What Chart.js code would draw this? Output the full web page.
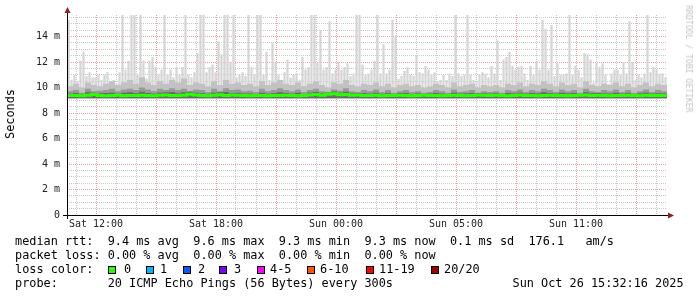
<!DOCTYPE html>
<html><head><meta charset="utf-8">
<script src="https://cdn.jsdelivr.net/npm/chart.js@4/dist/chart.umd.min.js"></script>
<style>
html,body{margin:0;padding:0;background:#fff;}
#wrap{position:relative;width:697px;height:297px;overflow:hidden;background:#fff;}
canvas{position:absolute;left:0;top:0;}
.t{position:absolute;font-family:'DejaVu Sans Mono',monospace;font-size:11.85px;color:#000;white-space:pre;line-height:14px;}
.box{position:absolute;width:8px;height:8px;box-sizing:border-box;border:1px solid #000;top:266px;}
.rot{position:absolute;white-space:pre;font-family:'DejaVu Sans Mono',monospace;}
</style></head>
<body>
<div id="wrap">
<canvas id="c" width="697" height="297"></canvas>
<div class="rot" style="left:10px;top:114px;font-size:11.85px;color:#000;transform:translate(-50%,-50%) rotate(-90deg);">Seconds</div>
<div class="rot" style="left:688.5px;top:59px;font-size:8.1px;color:#c4c4c4;transform:translate(-50%,-50%) rotate(90deg);">RRDTOOL / TOBI OETIKER</div>
<div class="t" style="left:15px;top:234px;">median rtt:  9.4 ms avg  9.6 ms max  9.3 ms min  9.3 ms now  0.1 ms sd  176.1   am/s</div>
<div class="t" style="left:15px;top:248px;">packet loss: 0.00 % avg  0.00 % max  0.00 % min  0.00 % now</div>
<div class="t" id="lossline" style="left:15px;top:262px;">loss color:</div>
<div class="t" style="left:15px;top:276px;">probe:       20 ICMP Echo Pings (56 Bytes) every 300s</div>
<div class="t" style="left:512.5px;top:276px;">Sun Oct 26 15:32:16 2025</div>
</div>
<script>
// ---- data ----
const lossLabels = ['0','1','2','3','4-5','6-10','11-19','20/20'];
const lossColors = ['#26ff00','#00b8ff','#0059ff','#7e00ff','#ff00ff','#ff5500','#ff0000','#a10000'];
const lossBoxX   = [108,146,183,219,257,307,366,431];
const lossTextX  = [124,160,198,234,270,320,379,444];

const xTickLabelHours = [0,6,12,18,24];
const xTickLabels = ['Sat 12:00','Sat 18:00','Sun 00:00','Sun 05:00','Sun 11:00'];
const yTickLabelVals = [0,2,4,6,8,10,12,14];
const yTickLabels = ['0','2 m','4 m','6 m','8 m','10 m','12 m','14 m'];

const startHour = -1.45, endHour = 28.55; // hours relative to Sat 12:00
const smokeFloor = 9.15;

// max ping per 9-minute column (ms)
const maxPing = [
15.3,10.6,11.0,10.5,12.1,12.8,10.9,11.2,10.8,10.8, 11.0,10.6,11.0,11.2,10.4,10.6,10.3,11.2,15.7,11.4,
12.1,15.7,15.7,11.0,15.7,12.1,10.7,12.1,12.4,11.6, 11.0,11.4,15.7,11.0,11.4,10.8,11.6,11.0,11.6,15.7,
11.0,10.8,11.2,12.7,15.7,15.7,11.2,11.6,11.8,11.2, 13.6,12.6,15.7,15.7,12.0,15.7,10.8,11.0,11.2,10.9,
15.7,11.6,11.0,15.7,15.7,11.0,12.8,10.6,13.5,12.0, 11.0,10.6,11.2,12.2,10.8,11.0,11.1,10.6,12.4,11.4,
11.6,15.7,15.7,11.9,14.5,11.4,11.6,15.2,11.1,11.4, 12.0,11.4,11.6,11.9,10.9,11.1,15.7,15.7,11.8,11.0,
11.1,11.4,12.1,15.7,11.1,13.4,11.1,11.4,15.3,14.1, 10.7,10.9,11.3,11.6,11.0,10.9,12.5,11.2,11.1,11.7,
11.4,11.0,11.2,10.5,10.6,11.0,10.6,11.1,10.9,15.7, 11.1,10.9,11.0,15.7,11.0,10.6,10.4,11.0,11.2,11.1,
10.8,11.7,11.1,13.7,10.6,12.2,12.4,12.8,11.7,11.4, 11.6,11.7,11.1,10.6,11.7,11.0,12.1,11.4,15.3,14.6,
11.4,14.9,10.9,11.9,11.0,11.0,11.1,15.7,11.0,11.7, 11.4,10.8,12.7,12.6,12.2,10.4,11.9,11.6,11.9,11.0,
10.3,11.1,11.4,11.4,11.0,12.0,11.1,15.2,12.0,10.6, 11.0,10.8,11.1,15.7,11.2,11.6,11.4,11.1,11.1,10.8
];
// upper quantile per 18-minute column (ms)
const upperPing = [
10.1,10.3,10.0,10.4,10.2,10.1,10.3,10.5,10.2,10.4, 10.6,10.3,10.8,10.4,10.2,10.5,10.3,10.6,10.4,10.7,
10.2,10.4,10.3,10.1,10.5,10.2,10.6,10.3,10.4,10.2, 10.3,10.1,10.5,10.2,10.4,10.6,10.3,10.2,10.4,10.1,
10.3,10.5,10.2,10.0,10.4,10.3,10.6,10.2,10.1,10.3, 10.2,10.4,10.1,10.3,10.0,10.2,10.3,10.1,10.2,10.0,
10.1,10.3,10.2,10.0,10.4,10.1,10.2,10.3,10.0,10.2, 10.1,10.2,10.0,10.3,10.2,10.4,10.1,10.3,10.2,10.5,
10.3,10.1,10.4,10.2,10.3,10.0,10.5,10.2,10.1,10.3, 10.2,10.4,10.1,10.3,10.0,10.2,10.4,10.1,10.3,10.2
];
// inner quantile per 18-minute column (ms)
const innerPing = [
9.70,9.80,9.60,9.90,9.70,9.75,9.80,9.90,9.70,9.85, 9.90,9.80,10.0,9.85,9.70,9.90,9.80,9.95,9.80,9.90,
9.70,9.85,9.80,9.65,9.90,9.70,9.95,9.80,9.85,9.70, 9.75,9.65,9.90,9.70,9.80,9.95,9.80,9.70,9.85,9.65,
9.80,9.90,9.70,9.60,9.85,9.75,9.95,9.70,9.65,9.80, 9.70,9.85,9.65,9.80,9.60,9.70,9.80,9.65,9.70,9.60,
9.65,9.80,9.70,9.60,9.85,9.65,9.70,9.80,9.60,9.70, 9.65,9.70,9.60,9.80,9.70,9.85,9.65,9.80,9.70,9.90,
9.80,9.65,9.85,9.70,9.80,9.60,9.90,9.70,9.65,9.80, 9.70,9.85,9.65,9.80,9.60,9.70,9.85,9.65,9.80,9.70
];
// core quantile per 18-minute column (ms)
const corePing = [
9.52,9.58,9.50,9.62,9.60,9.55,9.58,9.60,9.52,9.60, 9.62,9.56,9.66,9.58,9.52,9.60,9.62,9.64,9.56,9.62,
9.66,9.60,9.56,9.50,9.60,9.62,9.64,9.58,9.60,9.54, 9.54,9.50,9.60,9.52,9.56,9.62,9.58,9.52,9.60,9.50,
9.60,9.64,9.58,9.62,9.68,9.60,9.66,9.56,9.58,9.56, 9.52,9.60,9.50,9.56,9.50,9.56,9.58,9.50,9.54,9.50,
9.52,9.58,9.52,9.50,9.60,9.52,9.54,9.58,9.58,9.56, 9.52,9.56,9.50,9.58,9.54,9.60,9.52,9.58,9.54,9.62,
9.58,9.52,9.60,9.54,9.58,9.50,9.62,9.56,9.58,9.54, 9.52,9.60,9.52,9.58,9.50,9.54,9.60,9.52,9.56,9.54
];
// median rtt per 18-minute column (ms)
const medianRtt = [
9.37,9.38,9.36,9.40,9.45,9.38,9.36,9.37,9.39,9.36, 9.38,9.37,9.40,9.38,9.36,9.39,9.42,9.38,9.37,9.40,
9.48,9.42,9.38,9.36,9.40,9.43,9.38,9.41,9.39,9.37, 9.36,9.38,9.37,9.35,9.37,9.38,9.40,9.37,9.36,9.38,
9.42,9.45,9.40,9.47,9.52,9.44,9.46,9.40,9.42,9.38, 9.37,9.39,9.36,9.38,9.37,9.40,9.38,9.36,9.37,9.39,
9.38,9.37,9.36,9.38,9.40,9.37,9.36,9.38,9.42,9.39, 9.37,9.40,9.38,9.36,9.37,9.41,9.38,9.37,9.36,9.38,
9.39,9.37,9.38,9.36,9.37,9.39,9.42,9.38,9.40,9.37, 9.36,9.38,9.37,9.40,9.38,9.36,9.39,9.37,9.38,9.37
];

// ---- legend boxes ----
const wrap = document.getElementById('wrap');
lossLabels.forEach((lab, i) => {
  const b = document.createElement('div');
  b.className = 'box'; b.style.left = lossBoxX[i] + 'px'; b.style.background = lossColors[i];
  wrap.appendChild(b);
  const t = document.createElement('div');
  t.className = 't'; t.style.left = lossTextX[i] + 'px'; t.style.top = '262px'; t.textContent = lab;
  wrap.appendChild(t);
});

// ---- build series points along the time axis ----
function toPoints(arr) {
  const step = (endHour - startHour) / arr.length;
  const pts = arr.map((v, i) => ({x: startHour + i * step, y: v}));
  pts.push({x: endHour, y: arr[arr.length - 1]});
  return pts;
}
function toBars(arr) {
  const step = (endHour - startHour) / arr.length;
  return arr.map((v, i) => ({x: startHour + (i + 0.5) * step, y: [smokeFloor, v]}));
}

const redGrid = 'rgba(225,120,120,0.7)';
const grayGrid = 'rgba(175,175,175,0.7)';

const axisPlugin = {
  id: 'rrdAxes',
  afterDraw(chart) {
    const {ctx, chartArea: a} = chart;
    ctx.save();
    ctx.strokeStyle = '#000'; ctx.lineWidth = 1;
    ctx.beginPath();
    ctx.moveTo(a.left + 0.5, a.bottom + 4); ctx.lineTo(a.left + 0.5, a.top - 3);
    ctx.moveTo(a.left - 4, a.bottom + 0.5); ctx.lineTo(a.right + 2, a.bottom + 0.5);
    ctx.stroke();
    ctx.fillStyle = '#9b1c1c';
    ctx.beginPath();
    ctx.moveTo(a.left + 0.5, a.top - 8); ctx.lineTo(a.left - 2.5, a.top - 2); ctx.lineTo(a.left + 3.5, a.top - 2); ctx.closePath();
    ctx.fill();
    ctx.beginPath();
    ctx.moveTo(a.right + 7, a.bottom + 0.5); ctx.lineTo(a.right + 1, a.bottom - 2.5); ctx.lineTo(a.right + 1, a.bottom + 3.5); ctx.closePath();
    ctx.fill();
    ctx.restore();
  }
};

const common = {pointRadius: 0, borderWidth: 0, stepped: true, tension: 0};

new Chart(document.getElementById('c'), {
  type: 'line',
  data: {
    datasets: [
      {label: 'median', data: toPoints(medianRtt), borderColor: '#26ff00', borderWidth: 3, pointRadius: 0, stepped: true, fill: false},
      Object.assign({label: 'core', data: toPoints(corePing), backgroundColor: '#6a6a6a', borderColor: 'rgba(0,0,0,0)', fill: {value: smokeFloor}}, common),
      Object.assign({label: 'inner', data: toPoints(innerPing), backgroundColor: '#999999', borderColor: 'rgba(0,0,0,0)', fill: {value: smokeFloor}}, common),
      Object.assign({label: 'upper', data: toPoints(upperPing), backgroundColor: '#c2c2c2', borderColor: 'rgba(0,0,0,0)', fill: {value: smokeFloor}}, common),
      {type: 'bar', label: 'max', data: toBars(maxPing), backgroundColor: '#d5d5d5', borderWidth: 0,
       grouped: false, barPercentage: 0.75, categoryPercentage: 1}
    ]
  },
  options: {
    responsive: false, animation: false, devicePixelRatio: 1,
    layout: {padding: {top: 15, right: 30, left: 0, bottom: 0}},
    plugins: {legend: {display: false}, tooltip: {enabled: false}},
    scales: {
      x: {
        type: 'linear', min: startHour, max: endHour, offset: false,
        afterFit: s => { s.height = 82; },
        afterBuildTicks: s => {
          const t = [];
          for (let h = Math.ceil(startHour); h <= Math.floor(endHour); h++) t.push({value: h});
          s.ticks = t;
        },
        ticks: {
          autoSkip: false, maxRotation: 0, padding: 3, color: '#222',
          font: {family: 'DejaVu Sans Mono', size: 10},
          callback: v => { const k = xTickLabelHours.indexOf(v); return k >= 0 ? xTickLabels[k] : ''; }
        },
        grid: {drawTicks: false, offset: false, lineWidth: 1, color: c => (c.tick && ((c.tick.value % 3) + 3) % 3 === 0) ? redGrid : grayGrid},
        border: {display: false, dash: [1, 1]}
      },
      y: {
        type: 'linear', min: 0, max: 15.69,
        afterFit: s => { s.width = 67; },
        afterBuildTicks: s => {
          const t = [];
          for (let v = 0; v <= 15.5; v += 0.5) t.push({value: v});
          s.ticks = t;
        },
        ticks: {
          autoSkip: false, padding: 7, color: '#222',
          font: {family: 'DejaVu Sans Mono', size: 10},
          callback: v => { const k = yTickLabelVals.indexOf(v); return k >= 0 ? yTickLabels[k] : ''; }
        },
        grid: {drawTicks: false, lineWidth: 1, color: c => (c.tick && yTickLabelVals.indexOf(c.tick.value) >= 0) ? redGrid : grayGrid},
        border: {display: false, dash: [1, 1]}
      }
    }
  },
  plugins: [axisPlugin]
});
</script>
</body></html>
